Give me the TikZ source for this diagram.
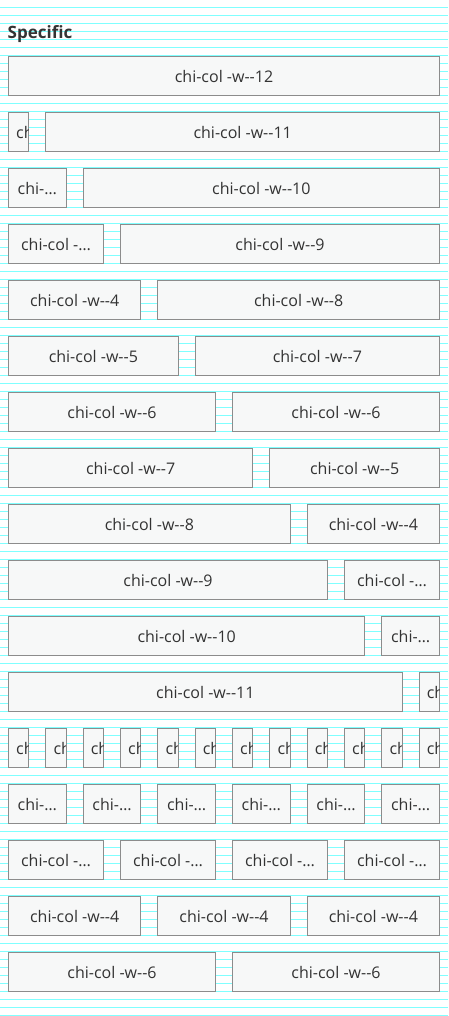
\documentclass[tikz,border=0pt]{standalone}
\usepackage{fontspec}
\newfontfamily\cbfont{Open Sans}
\definecolor{bgstripe}{RGB}{128,255,255}
\definecolor{boxline}{RGB}{140,140,140}
\definecolor{boxfill}{RGB}{247,248,248}
\definecolor{txt}{RGB}{51,51,51}
\tikzset{
  chibox/.style={draw=boxline, fill=boxfill, line width=1pt, inner sep=0pt, outer sep=0pt,
    anchor=north west, minimum height=39pt, font=\cbfont\fontsize{16}{19}\selectfont,
    text=txt, text height=13.4pt, text depth=0pt},
  chitext/.style={inner sep=0pt, outer sep=0pt, anchor=base west,
    font=\cbfont\fontsize{16}{19}\selectfont, text=txt},
  stripeline/.style={draw=bgstripe, line width=1.2pt}
}
\newcommand\chibox[4]{%
  \pgfmathsetmacro\cbL{8.5+#3*37.333333}%
  \pgfmathsetmacro\cbW{#4*37.333333-17}%
  \pgfmathsetmacro\cbT{56.5+#2*56}%
  \ifnum#4>3
    \node[chibox, minimum width=\cbW pt] (#1) at (\cbL,\cbT) {chi-col -w-\kern0pt-#4};
  \else\ifnum#4=3
    \node[chibox, minimum width=\cbW pt] (#1) at (\cbL,\cbT) {chi-col -…};
  \else\ifnum#4=2
    \node[chibox, minimum width=\cbW pt] (#1) at (\cbL,\cbT) {chi-…};
  \else
    \node[chibox, minimum width=\cbW pt] (#1) at (\cbL,\cbT) {};
    \begin{scope}
      \clip (#1.north west) rectangle ([xshift=-0.5pt]#1.south east);
      \node[chitext] (#1t) at (\cbL+7.7,\cbT+26.2) {ch};
    \end{scope}
  \fi\fi\fi
}
\newcommand\chirow[2]{%
  \xdef\cbStart{0}%
  \foreach \s [count=\i] in {#2}{%
    \chibox{b#1-\i}{#1}{\cbStart}{\s}%
    \pgfmathtruncatemacro\cbNext{\cbStart+\s}%
    \xdef\cbStart{\cbNext}%
  }%
}
\begin{document}
\begin{tikzpicture}[x=1pt,y=-1pt]
\useasboundingbox (0,0) rectangle (448,1016);
\fill[white] (0,0) rectangle (448,1016);
\foreach \k in {0,...,127} \draw[stripeline] (0,8*\k-0.5) -- (448,8*\k-0.5);
\node[inner sep=0pt, anchor=base west, font=\cbfont\bfseries\fontsize{17}{20}\selectfont, text=txt] (title) at (7.5,38.5) {Specific};
\chirow{0}{12}
\chirow{1}{1,11}
\chirow{2}{2,10}
\chirow{3}{3,9}
\chirow{4}{4,8}
\chirow{5}{5,7}
\chirow{6}{6,6}
\chirow{7}{7,5}
\chirow{8}{8,4}
\chirow{9}{9,3}
\chirow{10}{10,2}
\chirow{11}{11,1}
\chirow{12}{1,1,1,1,1,1,1,1,1,1,1,1}
\chirow{13}{2,2,2,2,2,2}
\chirow{14}{3,3,3,3}
\chirow{15}{4,4,4}
\chirow{16}{6,6}
\end{tikzpicture}
\end{document}
